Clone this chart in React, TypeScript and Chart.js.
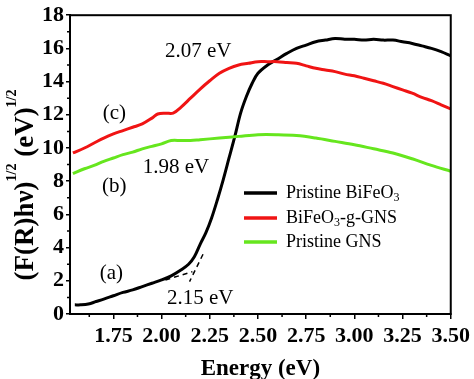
import React, { useEffect, useRef } from "react";
import { Chart, registerables } from "chart.js";

Chart.register(...registerables);

// ---- data ----
const X_TICKS = [1.75, 2.0, 2.25, 2.5, 2.75, 3.0, 3.25, 3.5];
const X_MINOR = [1.625, 1.875, 2.125, 2.375, 2.625, 2.875, 3.125, 3.375];
const Y_TICKS = [0, 2, 4, 6, 8, 10, 12, 14, 16, 18];
const Y_MINOR = [1, 3, 5, 7, 9, 11, 13, 15, 17];

const bfoX = [1.55, 1.58, 1.62, 1.66, 1.7, 1.75, 1.8, 1.85, 1.9, 1.95, 2.0, 2.05, 2.1, 2.14, 2.17, 2.2, 2.23, 2.26, 2.29, 2.32, 2.35, 2.38, 2.41, 2.44, 2.47, 2.5, 2.55, 2.6, 2.65, 2.7, 2.75, 2.8, 2.85, 2.9, 2.95, 3.0, 3.05, 3.1, 3.15, 3.2, 3.25, 3.3, 3.35, 3.4, 3.45, 3.5];
const bfoY = [0.55, 0.55, 0.6, 0.75, 0.9, 1.1, 1.3, 1.45, 1.65, 1.85, 2.05, 2.3, 2.65, 3.0, 3.45, 4.2, 4.9, 5.8, 6.9, 8.1, 9.4, 10.7, 12.1, 13.1, 13.9, 14.5, 15.0, 15.35, 15.7, 16.0, 16.2, 16.4, 16.5, 16.6, 16.55, 16.55, 16.5, 16.55, 16.5, 16.5, 16.4, 16.3, 16.15, 16.0, 15.8, 15.55];

const compX = [1.54, 1.6, 1.65, 1.7, 1.75, 1.8, 1.85, 1.9, 1.95, 1.98, 2.02, 2.06, 2.1, 2.15, 2.2, 2.25, 2.3, 2.35, 2.4, 2.45, 2.5, 2.55, 2.6, 2.65, 2.7, 2.75, 2.8, 2.85, 2.9, 2.95, 3.0, 3.05, 3.1, 3.15, 3.2, 3.25, 3.3, 3.35, 3.4, 3.45, 3.5];
const compY = [9.7, 10.0, 10.3, 10.6, 10.85, 11.05, 11.25, 11.45, 11.8, 12.05, 12.1, 12.1, 12.45, 13.0, 13.55, 14.05, 14.5, 14.8, 15.0, 15.1, 15.2, 15.2, 15.2, 15.15, 15.1, 14.95, 14.8, 14.7, 14.6, 14.45, 14.35, 14.2, 14.05, 13.9, 13.7, 13.5, 13.3, 13.05, 12.85, 12.6, 12.35];

const gnsX = [1.54, 1.6, 1.65, 1.7, 1.75, 1.8, 1.85, 1.9, 1.95, 2.0, 2.05, 2.1, 2.15, 2.2, 2.3, 2.4, 2.5, 2.6, 2.7, 2.8, 2.9, 3.0, 3.1, 3.2, 3.3, 3.4, 3.5];
const gnsY = [8.45, 8.75, 8.95, 9.2, 9.4, 9.6, 9.75, 9.95, 10.1, 10.25, 10.45, 10.45, 10.45, 10.5, 10.6, 10.7, 10.8, 10.8, 10.75, 10.6, 10.4, 10.2, 9.95, 9.7, 9.35, 8.95, 8.6];

const tan1X = [2.02, 2.16];
const tan1Y = [2.05, 2.55];
const tan2X = [2.215, 2.145];
const tan2Y = [3.6, 1.95];

const SERIES_NAMES = ["Pristine BiFeO", "BiFeO", "Pristine GNS"];
const COLORS = ["#000000", "#f01414", "#66e61e"];

const ANNOTATIONS = [
  { text: "2.07 eV", x: 2.19, y: 15.8 },
  { text: "(c)", x: 1.755, y: 12.05 },
  { text: "1.98 eV", x: 2.075, y: 8.85 },
  { text: "(b)", x: 1.755, y: 7.7 },
  { text: "(a)", x: 1.74, y: 2.45 },
  { text: "2.15 eV", x: 2.2, y: 0.95 },
];

const zip = (xs: number[], ys: number[]) => xs.map((x, i) => ({ x, y: ys[i] }));

const SERIF = "'Liberation Serif', 'Times New Roman', serif";

const drawPlugin = {
  id: "decor",
  afterDraw(chart: any) {
    const { ctx, chartArea: a, scales } = chart;
    const xs = scales.x;
    const ys = scales.y;
    ctx.save();
    // frame
    ctx.strokeStyle = "#000";
    ctx.lineWidth = 2;
    ctx.strokeRect(a.left, a.top, a.right - a.left, a.bottom - a.top);
    // minor ticks
    ctx.lineWidth = 1.5;
    ctx.beginPath();
    X_MINOR.forEach((v) => {
      const px = xs.getPixelForValue(v);
      ctx.moveTo(px, a.bottom);
      ctx.lineTo(px, a.bottom + 3);
    });
    Y_MINOR.forEach((v) => {
      const py = ys.getPixelForValue(v);
      ctx.moveTo(a.left, py);
      ctx.lineTo(a.left - 3, py);
    });
    ctx.stroke();

    // annotations
    ctx.fillStyle = "#000";
    ctx.font = `21px ${SERIF}`;
    ctx.textAlign = "center";
    ctx.textBaseline = "middle";
    ANNOTATIONS.forEach((an) => {
      ctx.fillText(an.text, xs.getPixelForValue(an.x), ys.getPixelForValue(an.y));
    });

    // legend
    const lx0 = 244, lx1 = 277, tx = 286;
    const rows = [193, 218, 242];
    ctx.textAlign = "left";
    rows.forEach((ry, i) => {
      ctx.strokeStyle = COLORS[i];
      ctx.lineWidth = 3.5;
      ctx.beginPath();
      ctx.moveTo(lx0, ry);
      ctx.lineTo(lx1, ry);
      ctx.stroke();
      ctx.fillStyle = "#000";
      ctx.font = `18px ${SERIF}`;
      ctx.textBaseline = "middle";
      const name = SERIES_NAMES[i];
      ctx.fillText(name, tx, ry);
      const w = ctx.measureText(name).width;
      if (i === 0) {
        ctx.font = `12px ${SERIF}`;
        ctx.fillText("3", tx + w, ry + 5);
      } else if (i === 1) {
        ctx.font = `12px ${SERIF}`;
        ctx.fillText("3", tx + w, ry + 5);
        const w3 = ctx.measureText("3").width;
        ctx.font = `18px ${SERIF}`;
        ctx.fillText("-g-GNS", tx + w + w3, ry);
      }
    });

    // y-axis title with superscripts
    ctx.translate(33, 185);
    ctx.rotate(-Math.PI / 2);
    ctx.textBaseline = "alphabetic";
    ctx.textAlign = "left";
    const main = `bold 27px ${SERIF}`;
    const sup = `bold 14px ${SERIF}`;
    const parts = [
      { t: "(F(R)h\u03bd)", f: main, dy: 0 },
      { t: "1/2", f: sup, dy: -17 },
      { t: " (eV)", f: main, dy: 0 },
      { t: "1/2", f: sup, dy: -17 },
    ];
    let total = 0;
    parts.forEach((p) => {
      ctx.font = p.f;
      total += ctx.measureText(p.t).width;
    });
    let cx = -total / 2;
    parts.forEach((p) => {
      ctx.font = p.f;
      ctx.fillText(p.t, cx, p.dy);
      cx += ctx.measureText(p.t).width;
    });
    ctx.restore();
  },
};

export default function App() {
  const ref = useRef<HTMLCanvasElement>(null);
  useEffect(() => {
    if (!ref.current) return;
    const lineDs = (label: string, xs: number[], ys: number[], color: string) => ({
      label,
      data: zip(xs, ys),
      borderColor: color,
      backgroundColor: color,
      borderWidth: 3,
      pointRadius: 0,
      tension: 0.35,
      fill: false,
    });
    const chart = new Chart(ref.current, {
      type: "line",
      data: {
        datasets: [
          lineDs("Pristine GNS", gnsX, gnsY, COLORS[2]),
          lineDs("BiFeO3-g-GNS", compX, compY, COLORS[1]),
          lineDs("Pristine BiFeO3", bfoX, bfoY, COLORS[0]),
          {
            label: "tangent1",
            data: zip(tan1X, tan1Y),
            borderColor: "#000",
            borderWidth: 1.5,
            borderDash: [5, 4],
            pointRadius: 0,
            fill: false,
          },
          {
            label: "tangent2",
            data: zip(tan2X, tan2Y),
            borderColor: "#000",
            borderWidth: 1.5,
            borderDash: [5, 4],
            pointRadius: 0,
            fill: false,
          },
        ],
      },
      options: {
        animation: false,
        responsive: false,
        layout: { padding: { top: 13, right: 22, left: 0, bottom: 0 } },
        plugins: { legend: { display: false }, tooltip: { enabled: false } },
        scales: {
          x: {
            type: "linear",
            min: 1.525,
            max: 3.5,
            afterFit: (s: any) => {
              s.height = 65;
            },
            afterBuildTicks: (s: any) => {
              s.ticks = X_TICKS.map((v) => ({ value: v }));
            },
            grid: { drawOnChartArea: false, drawTicks: true, tickLength: 5, color: "#000", lineWidth: 1.5 },
            border: { display: true, color: "#000", width: 2 },
            ticks: {
              autoSkip: false,
              maxRotation: 0,
              padding: 4,
              color: "#000",
              font: { family: SERIF, size: 22, weight: "bold" },
              callback: (v: any) => Number(v).toFixed(2),
            },
            title: {
              display: true,
              text: "Energy (eV)",
              color: "#000",
              padding: { top: 0, bottom: -4 },
              font: { family: SERIF, size: 23, weight: "bold" },
            },
          },
          y: {
            type: "linear",
            min: 0,
            max: 18,
            afterFit: (s: any) => {
              s.width = 70;
            },
            afterBuildTicks: (s: any) => {
              s.ticks = Y_TICKS.map((v) => ({ value: v }));
            },
            grid: { drawOnChartArea: false, drawTicks: true, tickLength: 4, color: "#000", lineWidth: 1.5 },
            border: { display: true, color: "#000", width: 2 },
            ticks: {
              autoSkip: false,
              padding: 2,
              color: "#000",
              font: { family: SERIF, size: 22, weight: "bold" },
            },
          },
        },
      },
      plugins: [drawPlugin],
    } as any);
    return () => chart.destroy();
  }, []);
  return (
    <div style={{ position: "fixed", left: 0, top: 0, width: 474, height: 379, background: "#fff" }}>
      <canvas ref={ref} width={474} height={379} style={{ display: "block" }} />
    </div>
  );
}
